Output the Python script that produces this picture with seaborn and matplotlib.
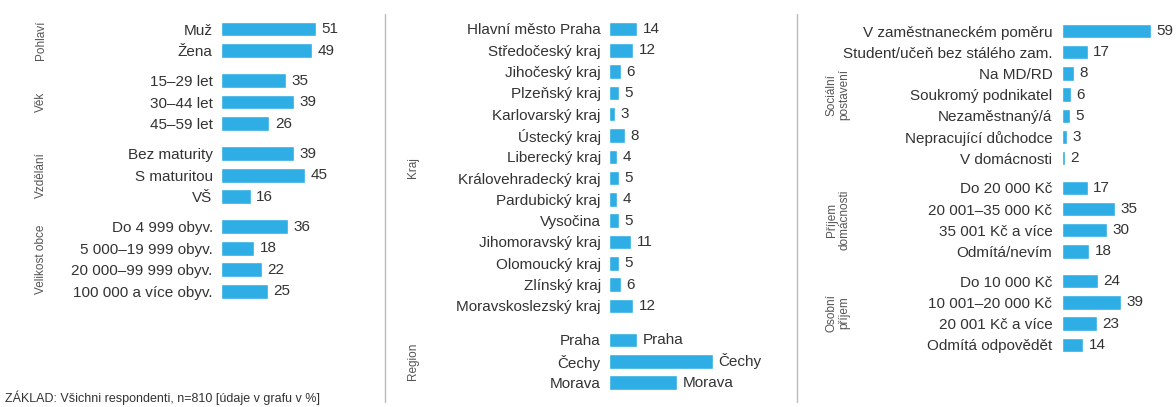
import pandas as pd
import matplotlib.pyplot as plt
import matplotlib.transforms as mtransforms
from matplotlib.lines import Line2D
import seaborn as sns

# ---- data ----
left_groups = ['Pohlaví', 'Věk', 'Vzdělání', 'Velikost obce']
left_labels = [
    ['Muž', 'Žena'],
    ['15–29 let', '30–44 let', '45–59 let'],
    ['Bez maturity', 'S maturitou', 'VŠ'],
    ['Do 4 999 obyv.', '5 000–19 999 obyv.', '20 000–99 999 obyv.', '100 000 a více obyv.'],
]
left_values = [[51, 49], [35, 39, 26], [39, 45, 16], [36, 18, 22, 25]]

mid_groups = ['Kraj', 'Region']
mid_labels = [
    ['Hlavní město Praha', 'Středočeský kraj', 'Jihočeský kraj', 'Plzeňský kraj',
     'Karlovarský kraj', 'Ústecký kraj', 'Liberecký kraj', 'Královehradecký kraj',
     'Pardubický kraj', 'Vysočina', 'Jihomoravský kraj', 'Olomoucký kraj',
     'Zlínský kraj', 'Moravskoslezský kraj'],
    ['Praha', 'Čechy', 'Morava'],
]
mid_values = [[14, 12, 6, 5, 3, 8, 4, 5, 4, 5, 11, 5, 6, 12], [14, 52, 34]]
# the region bars carry their names instead of numbers in the original
mid_bar_text = [None, ['Praha', 'Čechy', 'Morava']]

right_groups = ['Sociální\npostavení', 'Příjem\ndomácnosti', 'Osobní\npříjem']
right_labels = [
    ['V zaměstnaneckém poměru', 'Student/učeň bez stálého zam.', 'Na MD/RD',
     'Soukromý podnikatel', 'Nezaměstnaný/á', 'Nepracující důchodce', 'V domácnosti'],
    ['Do 20 000 Kč', '20 001–35 000 Kč', '35 001 Kč a více', 'Odmítá/nevím'],
    ['Do 10 000 Kč', '10 001–20 000 Kč', '20 001 Kč a více', 'Odmítá odpovědět'],
]
right_values = [[59, 17, 8, 6, 5, 3, 2], [17, 35, 30, 18], [24, 39, 23, 14]]

footer = 'ZÁKLAD: Všichni respondenti, n=810 [údaje v grafu v %]'

BLUE = '#2eaee4'
TEXT = '#333333'
W, H = 1176, 407
FS = 11

sns.set_style('white')
plt.rcParams['font.family'] = ['Liberation Sans', 'DejaVu Sans']

fig = plt.figure(figsize=(W / 100, H / 100), dpi=100)


def build(groups, labels, values, gap, bar_text=None):
    rows = []
    pos = 0.0
    for g, (labs, vals) in enumerate(zip(labels, values)):
        for i, (lab, v) in enumerate(zip(labs, vals)):
            txt = str(v)
            if bar_text is not None and bar_text[g] is not None:
                txt = bar_text[g][i]
            rows.append({'group': groups[g], 'label': lab, 'value': v, 'pos': pos, 'text': txt})
            pos += 1
        pos += gap
    return pd.DataFrame(rows)


def panel(df, bar_x, first_y, pitch, px_per_pct, ax_w, group_x, label_pad, bar_h=0.68):
    last = df['pos'].max()
    top_px = first_y - 0.6 * pitch
    h_px = (last + 1.2) * pitch
    ax = fig.add_axes([bar_x / W, 1 - (top_px + h_px) / H, ax_w / W, h_px / H])
    sns.barplot(data=df, x='value', y='pos', orient='h', native_scale=True,
                color=BLUE, width=bar_h, saturation=1, ax=ax)
    ax.set_xlim(0, ax_w / px_per_pct)
    ax.set_ylim(last + 0.6, -0.6)
    ax.set_yticks(df['pos'])
    ax.set_yticklabels(df['label'], fontsize=FS, color=TEXT)
    ax.tick_params(axis='y', length=0, pad=label_pad)
    ax.set_xticks([])
    ax.set_xlabel('')
    ax.set_ylabel('')
    sns.despine(ax=ax, left=True, bottom=True)
    ax.patch.set_alpha(0)
    ax.bar_label(ax.containers[0], labels=list(df['text']), padding=4,
                 fontsize=FS, color=TEXT)
    trans = mtransforms.blended_transform_factory(fig.transFigure, ax.transData)
    for g, sub in df.groupby('group', sort=False):
        yc = (sub['pos'].min() + sub['pos'].max()) / 2
        ax.text(group_x / W, yc, g, transform=trans, rotation=90, ha='center',
                va='center', fontsize=8.5, color='#555555', linespacing=1.1)
    return ax


df_left = build(left_groups, left_labels, left_values, gap=0.4)
df_mid = build(mid_groups, mid_labels, mid_values, gap=0.6, bar_text=mid_bar_text)
df_right = build(right_groups, right_labels, right_values, gap=0.4)

panel(df_left, 221, 29, 21.5, 1.86, 150, 41, 6)
panel(df_mid, 609, 29, 21.3, 2.0, 170, 413, 6)
panel(df_right, 1062, 31, 21.2, 1.5, 105, 838, 7)

for x in (385, 797):
    fig.add_artist(Line2D([x / W, x / W], [1 - 14 / H, 1 - 402 / H],
                          transform=fig.transFigure, color='#bbbbbb', lw=1))

fig.text(5 / W, 1 - 398 / H, footer, fontsize=9, color=TEXT, va='center', ha='left')

fig.savefig('out.png', dpi=100)
